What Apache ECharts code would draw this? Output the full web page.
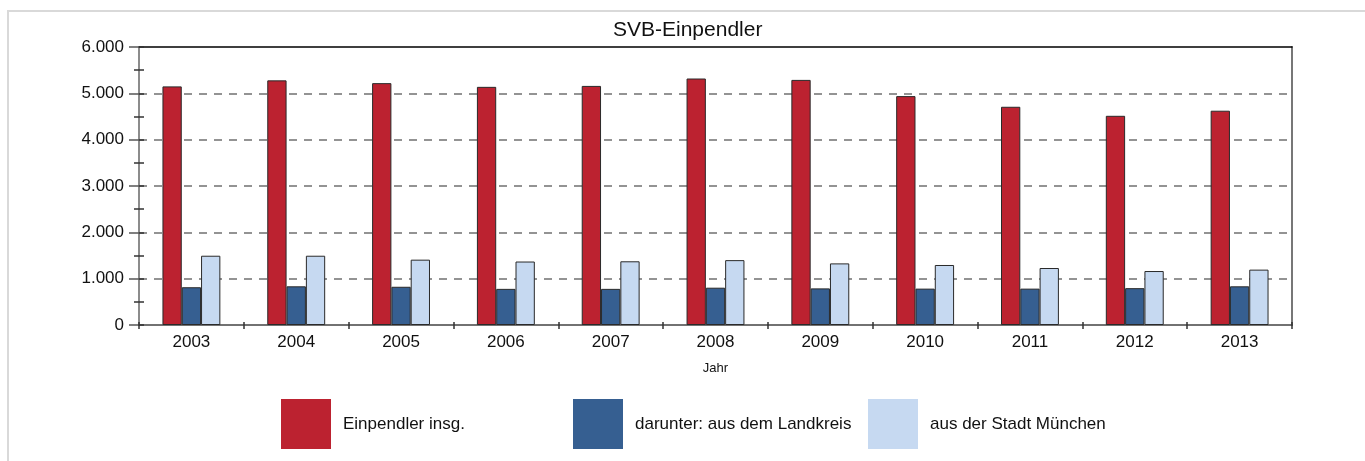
<!DOCTYPE html>
<html>
<head>
<meta charset="utf-8">
<script src="https://cdn.jsdelivr.net/npm/echarts@6/dist/echarts.min.js"></script>
<style>
  html, body { margin: 0; padding: 0; background: #fff; }
  #charts { width: 1365px; height: 461px; }
</style>
</head>
<body>
<div id="charts"></div>
<script>
// Werte
var years = ['2003', '2004', '2005', '2006', '2007', '2008', '2009', '2010', '2011', '2012', '2013'];
var einpendler = [5150, 5280, 5220, 5140, 5160, 5320, 5290, 4940, 4710, 4515, 4625];
var landkreis = [815, 835, 825, 780, 780, 805, 790, 785, 785, 795, 835];
var stadt = [1495, 1495, 1410, 1370, 1375, 1400, 1330, 1295, 1230, 1165, 1195];
var seriesNames = ['Einpendler insg.', 'darunter: aus dem Landkreis', 'aus der Stadt München'];
var colors = ['#BC2230', '#365F91', '#C6D9F1'];

var font = '"Liberation Sans", Arial, sans-serif';

function fmt(v) {
  return String(v).replace(/\B(?=(\d{3})+(?!\d))/g, '.');
}

var myChart = echarts.init(document.getElementById('charts'));

function bar(name, data, color) {
  return {
    name: name,
    type: 'bar',
    data: data,
    barWidth: 19.3,
    barGap: 0,
    itemStyle: { color: color, borderColor: '#2a2a2a', borderWidth: 1 }
  };
}

function legend(idx, left) {
  return {
    data: [seriesNames[idx]],
    left: left,
    top: 399,
    padding: 0,
    itemWidth: 50,
    itemHeight: 50,
    icon: 'rect',
    itemStyle: { borderWidth: 0 },
    selectedMode: false,
    textStyle: { fontFamily: font, fontSize: 17, color: '#111', padding: [0, 0, 0, 7] }
  };
}

var option = {
  animation: false,
  title: {
    text: 'SVB-Einpendler',
    left: 613,
    top: 20,
    padding: 0,
    textStyle: { fontFamily: font, fontSize: 21, fontWeight: 'normal', color: '#111' }
  },
  legend: [legend(0, 281), legend(1, 573), legend(2, 868)],
  graphic: [
    { type: 'line', shape: { x1: 7, y1: 11, x2: 1365, y2: 11 }, style: { stroke: '#d9d9d9', lineWidth: 2 } },
    { type: 'line', shape: { x1: 8, y1: 10, x2: 8, y2: 461 }, style: { stroke: '#d9d9d9', lineWidth: 2 } }
  ],
  grid: { left: 139, right: 73, top: 47, bottom: 136 },
  xAxis: [
    {
      type: 'category',
      data: years,
      position: 'bottom',
      name: 'Jahr',
      nameLocation: 'middle',
      nameGap: 37,
      nameTextStyle: { fontFamily: font, fontSize: 13, color: '#111' },
      axisLine: { lineStyle: { color: '#444', width: 1.5 } },
      axisTick: { show: true, length: 4, alignWithLabel: false, lineStyle: { color: '#333', width: 1.5 } },
      axisLabel: { fontFamily: font, fontSize: 17, color: '#111', margin: 9 }
    },
    {
      type: 'category',
      data: years,
      position: 'bottom',
      axisLine: { show: false },
      axisTick: { show: true, inside: true, length: 3, lineStyle: { color: '#333', width: 1.5 } },
      axisLabel: { show: false }
    },
    {
      type: 'category',
      data: years,
      position: 'top',
      axisLine: { onZero: false, lineStyle: { color: '#000', width: 1.5 } },
      axisTick: { show: false },
      axisLabel: { show: false }
    }
  ],
  yAxis: [
    {
      type: 'value',
      min: 0,
      max: 6000,
      interval: 1000,
      position: 'left',
      axisLine: { show: true, lineStyle: { color: '#666', width: 1.5 } },
      axisTick: { show: true, length: 10, lineStyle: { color: '#555', width: 1.5 } },
      minorTick: { show: true, splitNumber: 2, length: 5, lineStyle: { color: '#333', width: 1.5 } },
      axisLabel: { fontFamily: font, fontSize: 17, color: '#111', margin: 15, formatter: fmt },
      splitLine: {
        show: true,
        showMinLine: false,
        showMaxLine: false,
        lineStyle: { color: '#707070', width: 1.5, type: [8, 7] }
      }
    },
    {
      type: 'value',
      min: 0,
      max: 6000,
      interval: 500,
      position: 'left',
      axisLine: { show: false },
      axisTick: { show: true, inside: true, length: 5, lineStyle: { color: '#333', width: 1.5 } },
      axisLabel: { show: false },
      splitLine: { show: false }
    },
    {
      type: 'value',
      min: 0,
      max: 6000,
      interval: 1000,
      position: 'right',
      axisLine: { show: true, lineStyle: { color: '#777', width: 2 } },
      axisTick: { show: false },
      axisLabel: { show: false },
      splitLine: { show: false }
    }
  ],
  series: [
    bar(seriesNames[0], einpendler, colors[0]),
    bar(seriesNames[1], landkreis, colors[1]),
    bar(seriesNames[2], stadt, colors[2])
  ]
};

myChart.setOption(option);
</script>
</body>
</html>
